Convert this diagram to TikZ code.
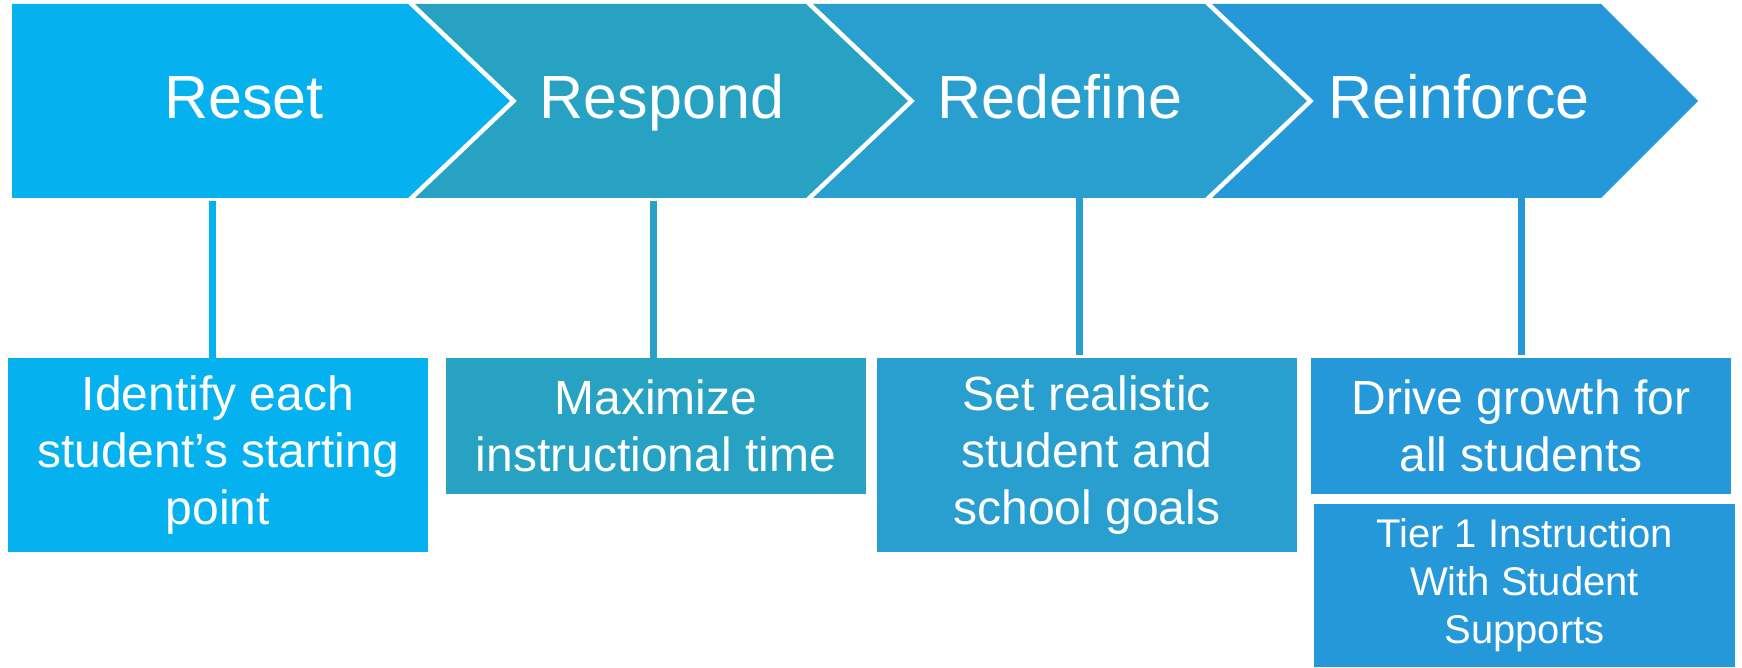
\documentclass[tikz,border=0pt]{standalone}
\usepackage{fontspec}
\setmainfont{Liberation Sans}
\usetikzlibrary{positioning}

\definecolor{resetblue}{HTML}{05B1EF}
\definecolor{respondteal}{HTML}{27A2C2}
\definecolor{redefineblue}{HTML}{289FCF}
\definecolor{reinforceblue}{HTML}{2598DA}

\tikzset{
  stage/.style={text=white, anchor=base, font=\fontsize{61}{72}\selectfont},
  goal/.style={rectangle, text=white, align=center, minimum width=420pt,
    inner sep=0pt, font=\fontsize{48}{57}\selectfont},
  link/.style={line width=7pt},
}

\begin{document}
\begin{tikzpicture}[x=1pt, y=-1pt]
  \useasboundingbox (0,0) rectangle (1742,668);

  % the four arrow stages
  \fill[resetblue] (12,4) -- (408,4) -- (510,101) -- (408,198) -- (12,198) -- cycle;
  \fill[respondteal] (415,4) -- (806,4) -- (908,101) -- (806,198) -- (415,198) -- (517,101) -- cycle;
  \fill[redefineblue] (813,4) -- (1205,4) -- (1307,101) -- (1205,198) -- (813,198) -- (915,101) -- cycle;
  \fill[reinforceblue] (1212,4) -- (1601,4) -- (1698,101) -- (1601,198) -- (1212,198) -- (1314,101) -- cycle;

  \node (reset) [stage] at (244,119) {Reset};
  \node (respond) [stage] at (662,119) {Respond};
  \node (redefine) [stage] at (1060,119) {Redefine};
  \node (reinforce) [stage] at (1459,119) {Reinforce};

  % boxes under each stage
  \node (identify) [goal, fill=resetblue, minimum height=194pt] at (218,455)
    {Identify each\\student’s starting\\point};
  \node (maximize) [goal, fill=respondteal, minimum height=136pt] at (656,426)
    {Maximize\\instructional time};
  \node (goals) [goal, fill=redefineblue, minimum height=194pt] at (1087,455)
    {Set realistic\\student and\\school goals};
  \node (growth) [goal, fill=reinforceblue, minimum height=136pt] at (1521,426)
    {Drive growth for\\all students};
  \node (tier) [goal, fill=reinforceblue, minimum width=421pt, minimum height=163pt,
    font=\fontsize{40}{48}\selectfont] at (1524.5,585.5)
    {Tier 1 Instruction\\With Student\\Supports};

  \coordinate (resetfoot) at (212,201);
  \coordinate (respondfoot) at (653,201);
  \coordinate (redefinefoot) at (1079,198);
  \coordinate (reinforcefoot) at (1521,198);

  \draw [link, resetblue] (resetfoot) -- (resetfoot |- identify.north);
  \draw [link, respondteal] (respondfoot) -- (respondfoot |- maximize.north);
  \draw [link, redefineblue] (redefinefoot) -- ([yshift=3pt]redefinefoot |- goals.north);
  \draw [link, reinforceblue] (reinforcefoot) -- ([yshift=3pt]reinforcefoot |- growth.north);
\end{tikzpicture}
\end{document}
